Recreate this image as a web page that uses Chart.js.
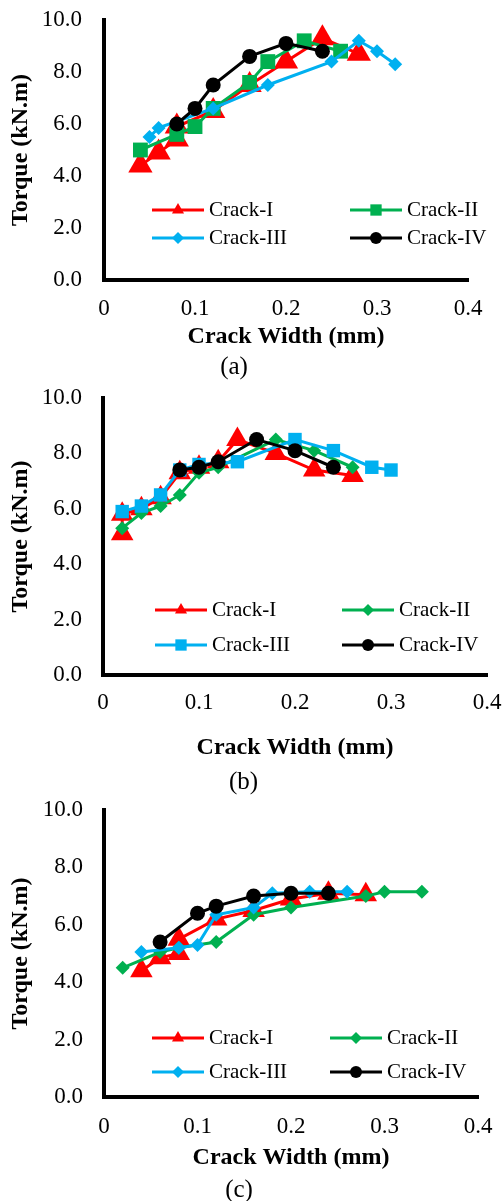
<!DOCTYPE html>
<html>
<head>
<meta charset="utf-8">
<script src="https://cdn.jsdelivr.net/npm/chart.js@4.4.1/dist/chart.umd.min.js"></script>
<style>
body { margin: 0; background: #fff; width: 502px; height: 1201px; overflow: hidden; position: relative; }
canvas { position: absolute; left: 0; }
</style>
</head>
<body>
<canvas id="chartA" width="502" height="380" style="top:0px"></canvas>
<canvas id="chartB" width="502" height="415" style="top:380px"></canvas>
<canvas id="chartC" width="502" height="410" style="top:795px"></canvas>
<script>
// names and tick labels
const seriesNames = ['Crack-I', 'Crack-II', 'Crack-III', 'Crack-IV'];
const xTickLabels = ['0', '0.1', '0.2', '0.3', '0.4'];
const yTickLabels = ['0.0', '2.0', '4.0', '6.0', '8.0', '10.0'];

// (a)
const aWidth1 = [0.04, 0.06, 0.08, 0.08, 0.12, 0.16, 0.20, 0.24, 0.28];
const aTorque1 = [4.4, 4.9, 5.4, 5.9, 6.5, 7.5, 8.4, 9.3, 8.7];
const aWidth2 = [0.04, 0.08, 0.10, 0.12, 0.16, 0.18, 0.22, 0.26];
const aTorque2 = [5.0, 5.6, 5.9, 6.6, 7.6, 8.4, 9.2, 8.8];
const aWidth3 = [0.05, 0.06, 0.12, 0.18, 0.25, 0.28, 0.30, 0.32];
const aTorque3 = [5.5, 5.85, 6.6, 7.5, 8.4, 9.2, 8.8, 8.3];
const aWidth4 = [0.08, 0.10, 0.12, 0.16, 0.20, 0.24];
const aTorque4 = [6.0, 6.6, 7.5, 8.6, 9.1, 8.8];

// (b)
const bWidth1 = [0.02, 0.02, 0.04, 0.06, 0.08, 0.10, 0.12, 0.14, 0.18, 0.22, 0.26];
const bTorque1 = [5.1, 5.8, 6.0, 6.4, 7.3, 7.5, 7.7, 8.5, 8.0, 7.4, 7.2];
const bWidth2 = [0.02, 0.04, 0.06, 0.08, 0.10, 0.12, 0.18, 0.22, 0.26];
const bTorque2 = [5.3, 5.85, 6.1, 6.5, 7.3, 7.5, 8.5, 8.1, 7.5];
const bWidth3 = [0.02, 0.04, 0.06, 0.08, 0.10, 0.14, 0.20, 0.24, 0.28, 0.30];
const bTorque3 = [5.9, 6.1, 6.5, 7.4, 7.6, 7.7, 8.5, 8.1, 7.5, 7.4];
const bWidth4 = [0.08, 0.10, 0.12, 0.16, 0.20, 0.24];
const bTorque4 = [7.4, 7.5, 7.7, 8.5, 8.1, 7.5];

// (c)
const cWidth1 = [0.04, 0.06, 0.08, 0.08, 0.12, 0.16, 0.20, 0.24, 0.28];
const cTorque1 = [4.4, 4.85, 5.0, 5.5, 6.2, 6.5, 6.9, 7.1, 7.05];
const cWidth2 = [0.02, 0.06, 0.08, 0.12, 0.16, 0.20, 0.28, 0.30, 0.34];
const cTorque2 = [4.5, 5.05, 5.2, 5.4, 6.35, 6.6, 7.0, 7.15, 7.15];
const cWidth3 = [0.04, 0.08, 0.10, 0.12, 0.16, 0.18, 0.22, 0.26];
const cTorque3 = [5.05, 5.2, 5.3, 6.35, 6.6, 7.1, 7.15, 7.15];
const cWidth4 = [0.06, 0.10, 0.12, 0.16, 0.20, 0.24];
const cTorque4 = [5.4, 6.4, 6.65, 7.0, 7.1, 7.1];

const FONT = '"Liberation Serif", "Times New Roman", serif';
const colors = ['#FF0000', '#00B050', '#00B0F0', '#000000'];

// legend drawn inside the plot, 2 x 2
const innerLegend = {
  id: 'innerLegend',
  afterDraw(chart, args, opts) {
    const ctx = chart.ctx;
    chart.data.datasets.forEach((ds, i) => {
      const x = opts.cols[i % 2];
      const y = opts.rows[Math.floor(i / 2)];
      ctx.save();
      ctx.strokeStyle = ds.borderColor;
      ctx.lineWidth = 3;
      ctx.beginPath();
      ctx.moveTo(x, y);
      ctx.lineTo(x + 52, y);
      ctx.stroke();
      ctx.fillStyle = ds.pointBackgroundColor;
      Chart.helpers.drawPoint(ctx, {pointStyle: ds.pointStyle, radius: ds.legendRadius, borderWidth: 0, rotation: 0}, x + 26, y);
      ctx.fillStyle = '#000';
      ctx.font = '21px ' + FONT;
      ctx.textBaseline = 'middle';
      ctx.textAlign = 'left';
      ctx.fillText(ds.label, x + 57, y);
      ctx.restore();
    });
  }
};

function pts(w, t) {
  return w.map((v, i) => ({x: v, y: t[i]}));
}

function drawChart(id, series, styles, lay) {
  const datasets = seriesNames.map((name, i) => ({
    label: name,
    data: pts(series[i][0], series[i][1]),
    showLine: true,
    borderColor: colors[i],
    backgroundColor: colors[i],
    pointBackgroundColor: colors[i],
    pointBorderWidth: 0,
    pointStyle: styles[i][0],
    pointRadius: styles[i][1],
    legendRadius: styles[i][2],
    borderWidth: 3,
    order: 4 - i
  }));

  new Chart(document.getElementById(id), {
    type: 'scatter',
    data: {datasets: datasets},
    plugins: [innerLegend],
    options: {
      responsive: false,
      animation: false,
      devicePixelRatio: 1,
      layout: {padding: {top: lay.padTop, right: lay.padRight, left: 0, bottom: 0}},
      plugins: {
        legend: {display: false},
        tooltip: {enabled: false},
        title: {
          display: true, position: 'bottom', text: lay.caption, color: '#000',
          font: {family: FONT, size: 25, weight: 'normal', lineHeight: 1},
          padding: {top: 0, bottom: lay.capPad}
        },
        innerLegend: {rows: lay.legendRows, cols: lay.legendCols}
      },
      scales: {
        x: {
          type: 'linear', min: 0, max: 0.4,
          // tick marks hidden, their length only spaces the labels
          grid: {display: false, drawTicks: true, tickLength: lay.xTickGap},
          border: {display: true, color: '#000', width: 4},
          ticks: {
            stepSize: 0.1, padding: 0, color: '#000',
            font: {family: FONT, size: 23},
            callback: (v, i) => xTickLabels[i]
          },
          title: {
            display: true, text: 'Crack Width (mm)', color: '#000',
            font: {family: FONT, size: 24, weight: 'bold'},
            padding: {top: 0, bottom: lay.xTitlePad}
          },
          afterFit: s => { s.height = lay.xAxisH; }
        },
        y: {
          type: 'linear', min: 0, max: 10,
          grid: {display: false, drawTicks: true, tickLength: lay.yTickGap},
          border: {display: true, color: '#000', width: 4},
          ticks: {
            stepSize: 2, padding: 0, color: '#000',
            font: {family: FONT, size: 23},
            callback: (v, i) => yTickLabels[i]
          },
          title: {
            display: true, text: 'Torque (kN.m)', color: '#000',
            font: {family: FONT, size: 24, weight: 'bold'},
            padding: {top: 6.5, bottom: 0}
          },
          afterFit: s => { s.width = lay.yAxisW; }
        }
      }
    }
  });
}

drawChart('chartA',
  [[aWidth1, aTorque1], [aWidth2, aTorque2], [aWidth3, aTorque3], [aWidth4, aTorque4]],
  [['triangle', 14, 7], ['rect', 10.5, 8], ['rectRot', 7, 6], ['circle', 7.5, 6]],
  {caption: '(a)', padTop: 20, padRight: 34, yAxisW: 104, xAxisH: 74.5, xTickGap: 15, yTickGap: 22,
   xTitlePad: 3, capPad: 0.5, legendRows: [210, 238], legendCols: [152, 350]});

drawChart('chartB',
  [[bWidth1, bTorque1], [bWidth2, bTorque2], [bWidth3, bTorque3], [bWidth4, bTorque4]],
  [['triangle', 13, 7], ['rectRot', 7, 6], ['rect', 9.5, 8], ['circle', 7.5, 6]],
  {caption: '(b)', padTop: 18, padRight: 15, yAxisW: 103, xAxisH: 94.5, xTickGap: 14.5, yTickGap: 21,
   xTitlePad: 7, capPad: 0.5, legendRows: [230, 265], legendCols: [155, 342]});

drawChart('chartC',
  [[cWidth1, cTorque1], [cWidth2, cTorque2], [cWidth3, cTorque3], [cWidth4, cTorque4]],
  [['triangle', 13, 7], ['rectRot', 7, 6], ['rectRot', 7, 6], ['circle', 7.5, 6]],
  {caption: '(c)', padTop: 15, padRight: 24, yAxisW: 104, xAxisH: 80.5, xTickGap: 16, yTickGap: 21,
   xTitlePad: 5, capPad: 2.5, legendRows: [243, 277], legendCols: [152, 330]});
</script>
</body>
</html>
